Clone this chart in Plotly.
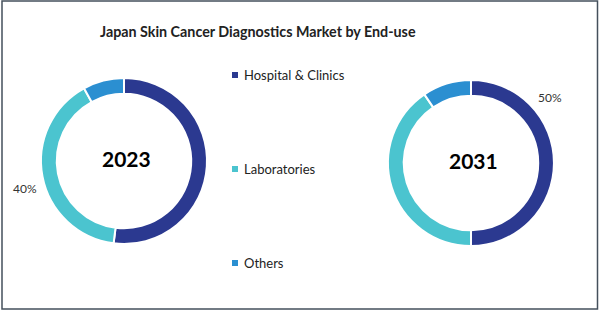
import plotly.graph_objects as go

W, H = 600, 311
categories = ["Hospital & Clinics", "Laboratories", "Others"]
years = ["2023", "2031"]
values_2023 = [52, 40, 8]
values_2031 = [50, 40.5, 9.5]
colors = ["#2B3990", "#4BC4CF", "#2B8FD1"]
title = "Japan Skin Cancer Diagnostics Market by End-use"

FONT = "Lato"

def px_x(x):
    return x / W

def px_y(y):
    return 1 - y / H

fig = go.Figure()

pies = [
    (values_2023, (124, 161)),
    (values_2031, (471, 163)),
]
R = 83
for vals, (cx, cy) in pies:
    fig.add_trace(go.Pie(
        labels=categories,
        values=vals,
        sort=False,
        direction="clockwise",
        rotation=0,
        hole=0.81,
        marker=dict(colors=colors, line=dict(color="white", width=2)),
        textinfo="none",
        hoverinfo="label+percent",
        showlegend=False,
        domain=dict(x=[px_x(cx - R), px_x(cx + R)], y=[px_y(cy + R), px_y(cy - R)]),
    ))

annotations = []

def text_at(x, y, text, size, color, xanchor="center"):
    annotations.append(dict(
        x=px_x(x), y=px_y(y), xref="paper", yref="paper",
        xanchor=xanchor, yanchor="middle",
        text=text, showarrow=False,
        font=dict(family=FONT, size=size, color=color),
    ))

# center year labels
for (vals, (cx, cy)), yr in zip(pies, years):
    text_at(cx + 2, cy - 3, f"<b>{yr}</b>", 21, "black")

# data labels
text_at(25, 188, f"{values_2023[1]:.0f}%", 12, "#333333")
text_at(550, 98, f"{values_2031[0]:.0f}%", 12, "#333333")

# title
text_at(258, 31, f"<b>{title}</b>", 14.3, "#222222")

shapes = []
legend_y = [75, 169, 263]
for cat, col, ly in zip(categories, colors, legend_y):
    text_at(242, ly, cat, 13, "#222222", xanchor="left")
    shapes.append(dict(
        type="rect", xref="paper", yref="paper",
        x0=px_x(232), x1=px_x(238), y0=px_y(ly + 3), y1=px_y(ly - 3),
        fillcolor=col, line=dict(width=0),
    ))

# border
shapes.append(dict(
    type="rect", xref="paper", yref="paper",
    x0=px_x(2), x1=px_x(597.5), y0=px_y(309), y1=px_y(1),
    line=dict(color="#44505C", width=1.5), fillcolor="rgba(0,0,0,0)",
))

fig.update_layout(
    width=W, height=H,
    margin=dict(l=0, r=0, t=0, b=0),
    paper_bgcolor="white",
    plot_bgcolor="white",
    annotations=annotations,
    shapes=shapes,
    showlegend=False,
)

fig.write_html("out.html")
